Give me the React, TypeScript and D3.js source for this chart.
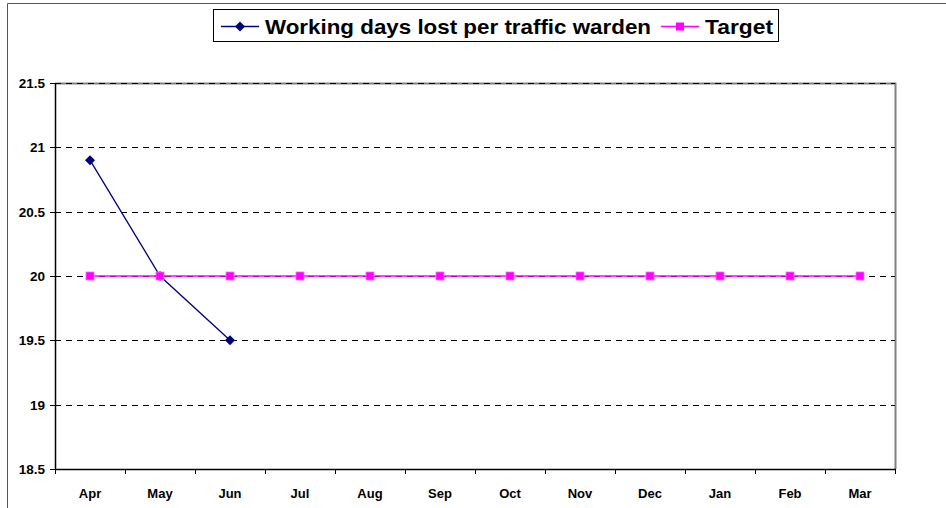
import React, { useEffect, useRef } from 'react';
import * as d3 from 'd3';

const months = ['Apr', 'May', 'Jun', 'Jul', 'Aug', 'Sep', 'Oct', 'Nov', 'Dec', 'Jan', 'Feb', 'Mar'];
const daysLost = [20.9, 20.0, 19.5];
const target = [20, 20, 20, 20, 20, 20, 20, 20, 20, 20, 20, 20];
const yTicks = [18.5, 19, 19.5, 20, 20.5, 21, 21.5];

const W = 946;
const H = 508;
const margin = { left: 55, top: 83, right: 51, bottom: 39 };
const font = '"Liberation Sans", Arial, sans-serif';

export default function App() {
  const ref = useRef<SVGSVGElement>(null);

  useEffect(() => {
    const svg = d3.select(ref.current);
    svg.selectAll('*').remove();

    const x = d3.scaleBand().domain(months).range([margin.left, W - margin.right]);
    const y = d3.scaleLinear().domain([18.5, 21.5]).range([H - margin.bottom, margin.top]);
    const cx = (i: number) => x(months[i])! + x.bandwidth() / 2;
    const ry = (v: number) => Math.round(y(v)) + 0.5;

    // outer frame
    svg.append('path')
      .attr('d', `M7.5,${H} V3.5 H${W}`)
      .attr('fill', 'none')
      .attr('stroke', '#555')
      .attr('stroke-width', 1);

    // plot border (top/right)
    svg.append('path')
      .attr('d', `M${margin.left},${ry(21.5)} H${W - margin.right + 0.5} V${y(18.5)}`)
      .attr('fill', 'none')
      .attr('stroke', '#808080')
      .attr('stroke-width', 2);

    // gridlines
    svg.append('g')
      .selectAll('line')
      .data(yTicks.filter(t => t > 18.5))
      .enter()
      .append('line')
      .attr('x1', margin.left)
      .attr('x2', W - margin.right)
      .attr('y1', d => ry(d))
      .attr('y2', d => ry(d))
      .attr('stroke', '#000')
      .attr('stroke-dasharray', '6,5');

    // y axis
    const gy = svg.append('g');
    gy.append('line')
      .attr('x1', margin.left + 0.5).attr('x2', margin.left + 0.5)
      .attr('y1', y(21.5)).attr('y2', y(18.5) + 1)
      .attr('stroke', '#000').attr('stroke-width', 1.5);
    gy.selectAll('line.tick')
      .data(yTicks)
      .enter()
      .append('line')
      .attr('class', 'tick')
      .attr('x1', margin.left - 5).attr('x2', margin.left)
      .attr('y1', d => ry(d))
      .attr('y2', d => ry(d))
      .attr('stroke', '#000');
    gy.selectAll('text')
      .data(yTicks)
      .enter()
      .append('text')
      .attr('x', margin.left - 10)
      .attr('y', d => y(d) + 5)
      .attr('text-anchor', 'end')
      .attr('font-family', font)
      .attr('font-weight', 'bold')
      .attr('font-size', 13.5)
      .text(d => String(d));

    // x axis
    const gx = svg.append('g');
    gx.append('line')
      .attr('x1', margin.left).attr('x2', W - margin.right + 1)
      .attr('y1', y(18.5) + 0.5).attr('y2', y(18.5) + 0.5)
      .attr('stroke', '#000').attr('stroke-width', 1.5);
    gx.selectAll('line.tick')
      .data(months.concat(['end']))
      .enter()
      .append('line')
      .attr('class', 'tick')
      .attr('x1', (d, i) => Math.round(margin.left + i * x.bandwidth()) + 0.5)
      .attr('x2', (d, i) => Math.round(margin.left + i * x.bandwidth()) + 0.5)
      .attr('y1', y(18.5)).attr('y2', y(18.5) + 5)
      .attr('stroke', '#000');
    gx.selectAll('text')
      .data(months)
      .enter()
      .append('text')
      .attr('x', (d, i) => cx(i))
      .attr('y', H - 10)
      .attr('text-anchor', 'middle')
      .attr('font-family', font)
      .attr('font-weight', 'bold')
      .attr('font-size', 13)
      .text(d => d);

    const line = d3.line<number>().x((d, i) => cx(i)).y(d => y(d));
    const diamondPath = (s: number) => `M0,${-s}L${s},0L0,${s}L${-s},0Z`;

    // lines
    svg.append('path')
      .attr('d', line(target))
      .attr('fill', 'none')
      .attr('stroke', '#ff00ff')
      .attr('stroke-width', 1.3);
    svg.append('path')
      .attr('d', line(daysLost))
      .attr('fill', 'none')
      .attr('stroke', '#000080')
      .attr('stroke-width', 1.3);

    // markers
    svg.append('g')
      .selectAll('path')
      .data(daysLost)
      .enter()
      .append('path')
      .attr('d', diamondPath(5))
      .attr('transform', (d, i) => `translate(${cx(i)},${y(d)})`)
      .attr('fill', '#000080');
    svg.append('g')
      .selectAll('rect')
      .data(target)
      .enter()
      .append('rect')
      .attr('x', (d, i) => cx(i) - 4)
      .attr('y', d => y(d) - 4)
      .attr('width', 8)
      .attr('height', 8)
      .attr('fill', '#ff00ff')
      .attr('stroke', '#ff66ff')
      .attr('stroke-width', 0.8);

    // legend
    const lg = svg.append('g');
    lg.append('rect')
      .attr('x', 213.5).attr('y', 9.5)
      .attr('width', 565).attr('height', 32)
      .attr('fill', '#fff')
      .attr('stroke', '#000');
    const items = [
      { name: 'Working days lost per traffic warden', color: '#000080', sym: 'diamond', x: 221, w: 386 },
      { name: 'Target', color: '#ff00ff', sym: 'square', x: 661, w: 68 },
    ];
    items.forEach(it => {
      lg.append('line')
        .attr('x1', it.x).attr('x2', it.x + 38)
        .attr('y1', 26.5).attr('y2', 26.5)
        .attr('stroke', it.color).attr('stroke-width', 1.5);
      if (it.sym === 'diamond') {
        lg.append('path').attr('d', diamondPath(5)).attr('transform', `translate(${it.x + 19},26.5)`).attr('fill', it.color);
      } else {
        lg.append('rect').attr('x', it.x + 15).attr('y', 22.5).attr('width', 8).attr('height', 8).attr('fill', it.color);
      }
      lg.append('text')
        .attr('x', it.x + 44)
        .attr('y', 34)
        .attr('font-family', font)
        .attr('font-weight', 'bold')
        .attr('font-size', 21)
        .attr('textLength', it.w)
        .attr('lengthAdjust', 'spacingAndGlyphs')
        .text(it.name);
    });
  }, []);

  return (
    <svg ref={ref} width={W} height={H} style={{ display: 'block', position: 'absolute', left: 0, top: 0, background: '#fff' }} />
  );
}
